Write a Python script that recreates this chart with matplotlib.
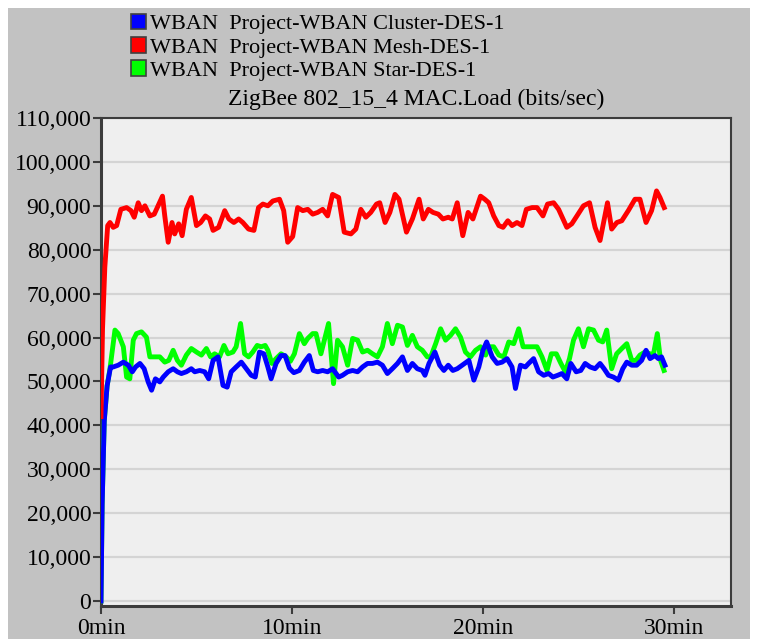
import matplotlib
matplotlib.use("Agg")
import matplotlib.pyplot as plt
from matplotlib.patches import Rectangle, Patch
from matplotlib.ticker import FuncFormatter

# values (time in minutes, load in bits/sec)
mesh_t = [0.0, 0.08, 0.2, 0.35, 0.47, 0.64, 0.82, 1.04, 1.34, 1.57, 1.74, 1.95, 2.12, 2.30,
          2.56, 2.79, 2.99, 3.22, 3.34, 3.52, 3.72, 3.86, 4.07, 4.25, 4.47, 4.73, 5.00, 5.22,
          5.47, 5.69, 5.87, 6.16, 6.48, 6.70, 6.96, 7.21, 7.43, 7.73, 8.01, 8.25, 8.48, 8.74,
          9.00, 9.35, 9.57, 9.78, 10.04, 10.30, 10.57, 10.83, 11.09, 11.35, 11.61, 11.87,
          12.13, 12.45, 12.74, 13.09, 13.35, 13.61, 13.87, 14.13, 14.43, 14.60, 14.88, 15.13,
          15.40, 15.61, 16.00, 16.31, 16.66, 16.88, 17.15, 17.39, 17.67, 17.91, 18.19, 18.40,
          18.66, 18.95, 19.23, 19.48, 19.88, 20.10, 20.31, 20.57, 20.84, 21.06, 21.31, 21.53,
          21.79, 22.05, 22.28, 22.58, 22.84, 23.15, 23.39, 23.71, 23.97, 24.40, 24.66, 24.93,
          25.27, 25.59, 25.88, 26.14, 26.53, 26.75, 27.02, 27.28, 27.62, 27.97, 28.23, 28.55,
          28.84, 29.10, 29.28, 29.50]
mesh_v = [42000, 62000, 76000, 85500, 86200, 85100, 85500, 89200, 89600, 88900, 87400, 90700,
          88900, 90000, 87700, 88100, 90000, 92200, 87700, 81700, 86200, 83600, 85900, 83200,
          89200, 91900, 85500, 86200, 87700, 87000, 84400, 85100, 88900, 87000, 86200, 87000,
          86200, 84700, 84400, 89600, 90400, 90000, 91100, 91500, 88900, 81700, 83000, 89600,
          88900, 89200, 88100, 88500, 89200, 87700, 92600, 91900, 84000, 83600, 84700, 89200,
          87400, 88500, 90400, 90700, 86200, 88500, 92600, 91500, 84000, 87000, 91500, 87000,
          89200, 88500, 88100, 87000, 87400, 87000, 90700, 83200, 88500, 87000, 92200, 91500,
          90700, 87700, 85500, 85100, 86600, 85500, 86200, 85500, 89200, 89600, 89600, 87700,
          90400, 90700, 89200, 85100, 85900, 87700, 90000, 90700, 85100, 82100, 90700, 84700,
          86200, 86600, 88900, 91500, 91500, 86200, 88900, 93400, 91900, 89600]

cluster_t = [0.0, 0.06, 0.17, 0.32, 0.50, 0.64, 0.90, 1.17, 1.43, 1.64, 1.81, 2.04, 2.26, 2.47,
             2.65, 2.85, 3.08, 3.26, 3.52, 3.78, 4.00, 4.21, 4.47, 4.73, 4.91, 5.17, 5.43, 5.64,
             5.87, 6.13, 6.39, 6.61, 6.82, 7.08, 7.35, 7.61, 7.87, 8.08, 8.30, 8.53, 8.74, 8.91,
             9.17, 9.43, 9.64, 9.87, 10.10, 10.39, 10.65, 10.91, 11.12, 11.35, 11.61, 11.87,
             12.13, 12.45, 12.65, 12.92, 13.18, 13.44, 13.70, 13.96, 14.22, 14.48, 14.74, 15.00,
             15.26, 15.53, 15.79, 16.05, 16.31, 16.57, 16.83, 16.97, 17.18, 17.49, 17.74, 17.96,
             18.19, 18.43, 18.66, 18.92, 19.27, 19.53, 19.79, 20.00, 20.20, 20.49, 20.75, 21.01,
             21.27, 21.53, 21.71, 21.97, 22.23, 22.40, 22.66, 22.92, 23.19, 23.45, 23.67, 23.92,
             24.14, 24.40, 24.61, 24.89, 25.13, 25.36, 25.62, 25.88, 26.14, 26.35, 26.58, 26.84,
             27.10, 27.33, 27.54, 27.80, 28.06, 28.32, 28.55, 28.76, 29.02, 29.19, 29.36, 29.54]
cluster_v = [0, 22000, 41000, 49000, 53300, 53300, 53700, 54400, 53700, 52200, 53300, 54100,
             52900, 49900, 48000, 50600, 49900, 51000, 52200, 52900, 52200, 51800, 52200, 52900,
             52200, 52500, 52200, 50600, 54800, 55600, 49100, 48700, 52200, 53300, 54400, 52900,
             51400, 51000, 56700, 56300, 53300, 50600, 54100, 55900, 55900, 53000, 52000, 52500,
             54400, 55900, 52500, 52200, 52500, 52200, 52900, 51000, 51400, 52200, 52500, 52200,
             53300, 54100, 54100, 54400, 53700, 51800, 52900, 54100, 55600, 52500, 54100, 52900,
             52500, 51400, 54100, 56700, 53700, 52500, 53700, 52500, 52900, 53700, 54800, 50300,
             53300, 57000, 59000, 55600, 54100, 54400, 55200, 53300, 48400, 53700, 53300, 54100,
             55200, 52200, 51400, 51800, 51000, 51400, 51800, 50600, 54100, 52200, 52500, 54100,
             53300, 52900, 54100, 52900, 51400, 51000, 50300, 52900, 54400, 53700, 53700, 54800,
             57100, 55200, 55900, 55200, 55600, 53700]

star_t = [0.0, 0.06, 0.17, 0.32, 0.47, 0.73, 0.90, 1.17, 1.34, 1.51, 1.69, 1.86, 2.12, 2.38,
          2.56, 2.82, 3.08, 3.34, 3.55, 3.78, 4.00, 4.21, 4.47, 4.73, 5.00, 5.26, 5.52, 5.74,
          5.95, 6.21, 6.44, 6.65, 6.91, 7.08, 7.31, 7.52, 7.73, 7.95, 8.18, 8.39, 8.60, 8.74,
          8.95, 9.17, 9.43, 9.70, 9.92, 10.13, 10.39, 10.65, 10.83, 11.09, 11.26, 11.52, 11.70,
          11.92, 12.05, 12.18, 12.39, 12.65, 12.92, 13.18, 13.44, 13.70, 13.96, 14.22, 14.48,
          14.74, 15.00, 15.26, 15.53, 15.79, 16.05, 16.31, 16.57, 16.83, 17.09, 17.27, 17.53,
          17.79, 18.05, 18.31, 18.57, 18.83, 19.09, 19.35, 19.62, 19.88, 20.15, 20.31, 20.57,
          20.84, 21.10, 21.36, 21.62, 21.88, 22.11, 22.32, 22.58, 22.84, 23.10, 23.36, 23.59,
          23.85, 24.09, 24.32, 24.54, 24.75, 25.01, 25.27, 25.54, 25.80, 26.06, 26.28, 26.49,
          26.75, 27.01, 27.28, 27.54, 27.80, 28.02, 28.23, 28.49, 28.76, 28.93, 29.14, 29.31,
          29.49]
star_v = [0, 22000, 41000, 49000, 52900, 61700, 60900, 57900, 51000, 50600, 59400, 60900,
          61300, 60100, 55600, 55600, 55600, 54400, 54800, 57100, 54800, 53700, 56000, 57500,
          56700, 56000, 57500, 55600, 56300, 55600, 58200, 56300, 56700, 57900, 63200, 56300,
          55600, 56700, 58200, 57900, 58200, 57100, 54100, 55200, 56300, 55600, 54600, 56300,
          60900, 58600, 59800, 60900, 60900, 56300, 59400, 63200, 56300, 49500, 59400, 57900,
          53700, 59800, 59400, 56700, 57100, 56300, 55600, 57900, 63200, 58600, 62800, 62400,
          58200, 60500, 57900, 57100, 55600, 55600, 58600, 62000, 59400, 60500, 62000, 60100,
          56700, 55600, 57100, 57900, 56000, 57900, 57900, 56000, 55600, 59000, 58600, 62000,
          57900, 57900, 57900, 57900, 55600, 52500, 56300, 56300, 54100, 52200, 55200, 59400,
          62000, 57900, 62000, 61700, 59400, 59000, 61700, 52900, 56300, 57500, 58600, 54800,
          54800, 56000, 56700, 56300, 56000, 60900, 54800, 52500]

labels = ["WBAN  Project-WBAN Cluster-DES-1",
          "WBAN  Project-WBAN Mesh-DES-1",
          "WBAN  Project-WBAN Star-DES-1"]
colors = ["#0000ff", "#ff0000", "#00ff00"]
x_ticks = [0, 10, 20, 30]
y_ticks = list(range(0, 110001, 10000))

plt.rcParams['font.family'] = ['Liberation Serif', 'DejaVu Serif']

W, H = 758, 639
fig = plt.figure(figsize=(W / 100, H / 100), dpi=100, facecolor='white')
fig.patches.append(Rectangle((8 / W, 0), 742 / W, 1 - 8 / H, transform=fig.transFigure,
                             facecolor='#c2c2c2', edgecolor='none', zorder=-10))

ax = fig.add_axes([101 / W, 1 - 606 / H, 630 / W, 488 / H])
ax.set_facecolor('#efefef')

ax.plot(star_t, star_v, color=colors[2], lw=3.5, zorder=3)
ax.plot(cluster_t, cluster_v, color=colors[0], lw=3.5, zorder=4)
ax.plot(mesh_t, mesh_v, color=colors[1], lw=3.5, zorder=5)

ax.set_xlim(0, 33)
ax.set_ylim(-1140, 110000)
ax.set_yticks(y_ticks)
ax.yaxis.set_major_formatter(FuncFormatter(lambda v, p: f"{v:,.0f}"))
ax.set_xticks(x_ticks)
ax.set_xticklabels([f"{t}min" for t in x_ticks])
ax.yaxis.grid(True, color='#d4d4d4', lw=1.6)
ax.set_axisbelow(True)
ax.tick_params(direction='out', length=6, width=1.5, color='#3c3c3c', labelsize=17,
               labelcolor='black')
ax.tick_params(axis='y', pad=1)
ax.tick_params(axis='x', pad=3)
for s in ax.spines.values():
    s.set_color('#3c3c3c')
    s.set_linewidth(1.5)
ax.spines['left'].set_linewidth(2.2)
ax.spines['bottom'].set_linewidth(2.2)

ax.set_title("ZigBee 802_15_4 MAC.Load (bits/sec)", fontsize=17, pad=9)

handles = [Patch(facecolor=c, edgecolor='#404040', lw=1.2) for c in colors]
fig.legend(handles, labels, loc='upper left', bbox_to_anchor=(122 / W, 1 - 5 / H),
           frameon=False, fontsize=16, handlelength=0.7, handleheight=0.7,
           handletextpad=0.15, labelspacing=0.12, borderaxespad=0)

fig.savefig("out.png", dpi=100, facecolor=fig.get_facecolor())
